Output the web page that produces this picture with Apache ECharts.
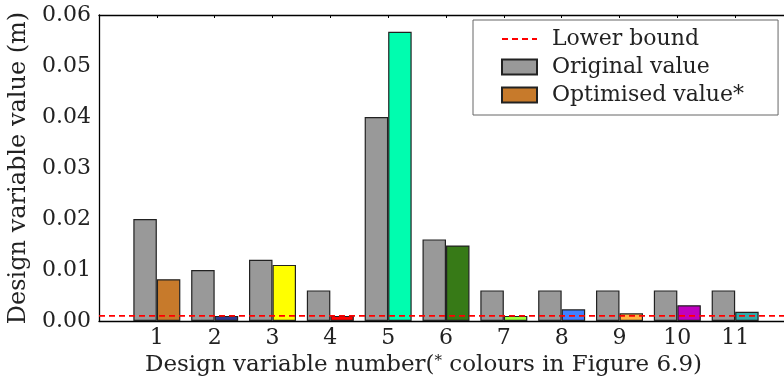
<!DOCTYPE html>
<html>
<head>
<meta charset="utf-8">
<script src="https://cdn.jsdelivr.net/npm/echarts@6/dist/echarts.min.js"></script>
<style>
  html, body { margin: 0; padding: 0; background: #fff; }
  #chart { width: 784px; height: 377px; }
</style>
</head>
<body>
<div id="chart"></div>
<script>
// Design variables 1..11
const categories = ['1', '2', '3', '4', '5', '6', '7', '8', '9', '10', '11'];
const originalValues = [0.020, 0.010, 0.012, 0.006, 0.040, 0.016, 0.006, 0.006, 0.006, 0.006, 0.006];
const optimisedValues = [0.0082, 0.0010, 0.0110, 0.0010, 0.0567, 0.0148, 0.0010, 0.0023, 0.0015, 0.0031, 0.0018];
const optimisedColours = ['#c77a2b', '#2f3b8c', '#ffff00', '#ff0000', '#00fdaf', '#377a17',
                          '#9bff3c', '#4080ff', '#ffb340', '#c000c0', '#33aaaa'];
const lowerBound = 0.001;
const yTicks = [0, 0.01, 0.02, 0.03, 0.04, 0.05, 0.06];

// Axis positions 0..12, with the design variables on 1..11
const axisData = [''].concat(categories, [' ']);
const pad = arr => ['-'].concat(arr, ['-']);

const FONT = 'DejaVu Serif';
const FS = 22;
const TXT = '#222';
const chart = echarts.init(document.getElementById('chart'));

chart.setOption({
  animation: false,
  textStyle: { fontFamily: FONT },
  grid: { left: 99, top: 15, bottom: 56, right: -9, containLabel: false, outerBoundsMode: 'none' },
  legend: {
    orient: 'vertical',
    left: 473,
    top: 20,
    padding: [8, 34, 9, 28],
    itemWidth: 35,
    itemHeight: 15,
    itemGap: 6,
    borderColor: '#666',
    borderWidth: 1,
    textStyle: { fontFamily: FONT, fontSize: FS, color: TXT, padding: [0, 0, 0, 10] },
    data: [
      { name: 'Lower bound', itemStyle: { opacity: 0 } },
      { name: 'Original value', icon: 'rect' },
      { name: 'Optimised value*', icon: 'rect' }
    ]
  },
  xAxis: [{
    type: 'category',
    data: axisData,
    boundaryGap: false,
    axisLine: { lineStyle: { color: '#000', width: 1.3 } },
    axisTick: { show: false },
    axisLabel: {
      fontFamily: FONT, fontSize: FS, color: TXT, margin: 6,
      formatter: v => v.trim()
    },
    name: 'Design variable number({sup|*} colours in Figure 6.9)',
    nameLocation: 'middle',
    nameGap: 28,
    nameTextStyle: {
      fontFamily: FONT, fontSize: 23, color: TXT, padding: [0, 45, 0, 0],
      rich: { sup: { fontFamily: FONT, fontSize: 15, color: TXT, verticalAlign: 'top', padding: [0, 0, 8, 0] } }
    },
    splitLine: { show: false }
  }, {
    type: 'category',
    data: axisData,
    boundaryGap: false,
    position: 'top',
    axisLine: { lineStyle: { color: '#000', width: 1.3 } },
    axisTick: { show: true, inside: true, length: 3, lineStyle: { color: '#000' },
                interval: (i, v) => v.trim() !== '' },
    axisLabel: { show: false },
    splitLine: { show: false }
  }],
  yAxis: {
    type: 'value',
    min: 0, max: 0.06, interval: 0.01,
    axisLine: { show: true, lineStyle: { color: '#000', width: 1.3 } },
    axisTick: { show: false },
    splitLine: { show: false },
    axisLabel: {
      fontFamily: FONT, fontSize: FS, color: TXT, margin: 8,
      formatter: v => yTicks.some(t => Math.abs(t - v) < 1e-9) ? v.toFixed(2) : ''
    },
    name: 'Design variable value (m)',
    nameLocation: 'middle',
    nameGap: 60,
    nameTextStyle: { fontFamily: FONT, fontSize: 24, color: TXT }
  },
  series: [{
    name: 'Original value',
    type: 'bar',
    data: pad(originalValues),
    barWidth: 23.5,
    barGap: '0%',
    itemStyle: { color: '#999999', borderColor: '#222', borderWidth: 1.2 },
    z: 2
  }, {
    name: 'Optimised value*',
    type: 'bar',
    data: pad(optimisedValues.map((v, i) => ({ value: v, itemStyle: { color: optimisedColours[i] } }))),
    barWidth: 23.5,
    barGap: '0%',
    itemStyle: { color: optimisedColours[0], borderColor: '#222', borderWidth: 1.2 },
    z: 2
  }, {
    name: 'Lower bound',
    type: 'line',
    data: axisData.map(() => lowerBound),
    symbol: 'none',
    lineStyle: { color: '#ff0000', width: 1.6, type: [6, 4] },
    itemStyle: { color: '#ff0000' },
    z: 5
  }]
});
</script>
</body>
</html>
